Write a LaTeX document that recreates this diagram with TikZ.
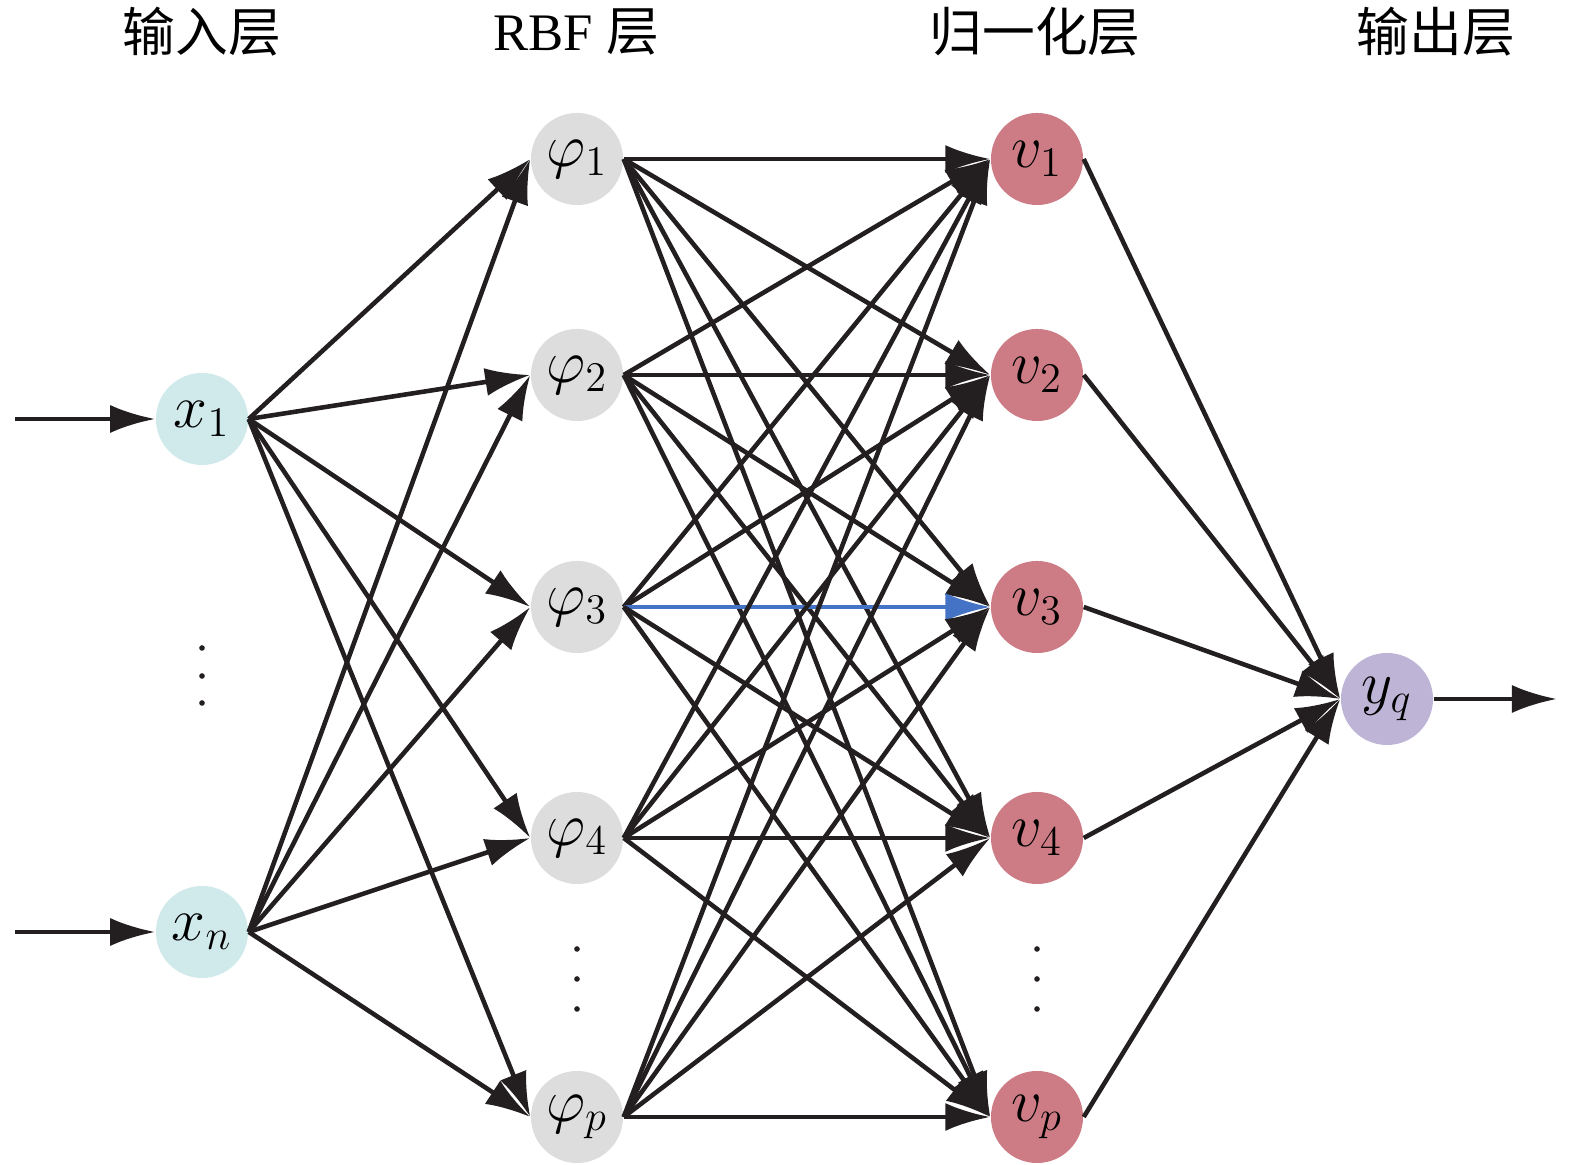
\documentclass[tikz,border=0pt]{standalone}
\usepackage{fontspec}
\setmainfont{Liberation Serif}
\newfontfamily\cjk{Noto Sans CJK SC}
\usepackage{xcolor}
\usetikzlibrary{arrows.meta,positioning}
\definecolor{inputc}{RGB}{208,234,236}
\definecolor{rbfc}{RGB}{221,221,221}
\definecolor{normc}{RGB}{205,124,133}
\definecolor{outc}{RGB}{190,181,214}
\definecolor{linec}{RGB}{35,31,32}
\definecolor{blueline}{RGB}{68,114,196}

\begin{document}
\begin{tikzpicture}[x=0.01cm, y=-0.01cm,
    neuron/.style={circle, minimum size=0.92cm, inner sep=0pt,
                   font=\fontsize{17.28}{20}\selectfont},
    title/.style={font=\fontsize{15}{18}\selectfont},
    link/.style={draw=linec, line width=1.3pt,
                 -{Latex[length=4.5mm,width=2.8mm]}}]
    \useasboundingbox (0,0) rectangle (1575,1165);

    % Titulos de las capas
    \node[title] (tin)   at (202,32)  {\cjk 输入层};
    \node[title] (trbf)  at (576,32)  {RBF {\cjk 层}};
    \node[title] (tnorm) at (1035,32) {\cjk 归一化层};
    \node[title] (tout)  at (1436,32) {\cjk 输出层};

    % Neuronas
    \node[neuron, fill=inputc] (x1) at (202,419) {$x_1$};
    \node[neuron, fill=inputc] (xn) at (202,932) {$x_n$};
    \foreach \i/\y in {1/159,2/375,3/607,4/838,p/1117}{
        \node[neuron, fill=rbfc]  (phi\i) at (577,\y)  {$\varphi_\i$};
        \node[neuron, fill=normc] (v\i)   at (1037,\y) {$v_\i$};
    }
    \node[neuron, fill=outc] (yq) at (1387,699) {$y_q$};

    % Puntos suspensivos
    \foreach \y in {648,676,703}
        \fill[linec] (202,\y) circle (0.8pt);
    \foreach \y in {949,979,1009}{
        \fill[linec] (577,\y) circle (0.8pt);
        \fill[linec] (1037,\y) circle (0.8pt);
    }

    % Entradas y salida
    \coordinate (in1) at (15,419);
    \coordinate (inn) at (15,932);
    \coordinate (out) at (1557,699);
    \draw[link] (in1) -- (x1.west);
    \draw[link] (inn) -- (xn.west);
    \draw[link] (yq.east) -- (out);

    % Conexiones
    \foreach \s in {x1,xn}
        \foreach \t in {1,2,3,4,p}
            \draw[link] (\s.east) -- (phi\t.west);
    \foreach \s in {1,2,3,4,p}
        \foreach \t in {1,2,3,4,p}{
            \edef\pair{\s\t}\def\blue{33}
            \ifx\pair\blue \def\col{blueline}\else \def\col{linec}\fi
            \draw[link, draw=\col] (phi\s.east) -- (v\t.west);
        }
    \foreach \t in {1,2,3,4,p}
        \draw[link] (v\t.east) -- (yq.west);
\end{tikzpicture}
\end{document}
